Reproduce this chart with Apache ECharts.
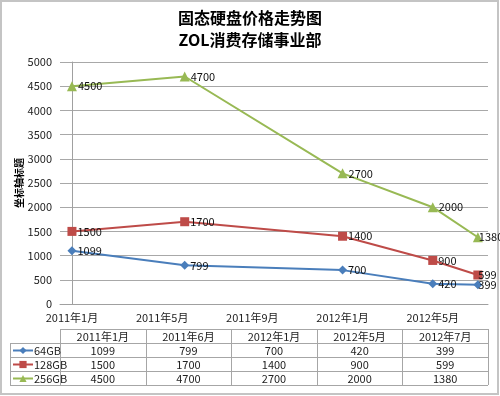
<!DOCTYPE html>
<html><head><meta charset="utf-8">
<script src="https://cdn.jsdelivr.net/npm/echarts@6/dist/echarts.min.js"></script>
<style>html,body{margin:0;padding:0;background:#fff}#c{width:500px;height:396px}</style>
</head><body><div id="c"></div>
<script>
const titleText = '固态硬盘价格走势图';
const subtitleText = 'ZOL消费存储事业部';
const yAxisTitle = '坐标轴标题';
const categories = ['2011年1月','2011年6月','2012年1月','2012年5月','2012年7月'];
const monthIndex = [0, 5, 12, 16, 18]; // months since 2011年1月
const tickMonths = [0, 4, 8, 12, 16];
const tickLabels = ['2011年1月','2011年5月','2011年9月','2012年1月','2012年5月'];
const seriesNames = ['64GB','128GB','256GB'];
const s64 = [1099, 799, 700, 420, 399];
const s128 = [1500, 1700, 1400, 900, 599];
const s256 = [4500, 4700, 2700, 2000, 1380];

const seriesValues = [s64, s128, s256];
const colors = ['#4a7ebb', '#be4b48', '#98b954'];
const symbols = ['diamond', 'rect', 'triangle'];
const symbolSizes = [9, 9, 10];
const FONT = "'Liberation Sans Narrow','Noto Sans CJK SC',sans-serif";
const GRID = {left: 60, right: 12, top: 62, bottom: 92};
const W = 500;

const chart = echarts.init(document.getElementById('c'), null, {renderer: 'canvas'});

// data table graphics
const tblLeft = GRID.left, tblRight = W - GRID.right, keyLeft = 10;
const hdrTop = 329, rowH = 14;
const colW = (tblRight - tblLeft) / categories.length;
const lineStyle = {stroke: '#a6a6a6', lineWidth: 1};
const g = [];
function hline(x1, x2, y) { g.push({type: 'line', shape: {x1, y1: y + 0.5, x2, y2: y + 0.5}, style: lineStyle, silent: true}); }
function vline(x, y1, y2) { g.push({type: 'line', shape: {x1: x + 0.5, y1, x2: x + 0.5, y2}, style: lineStyle, silent: true}); }
const nRows = seriesNames.length;
const tblBottom = hdrTop + rowH * (nRows + 1);
hline(tblLeft, tblRight, hdrTop);
for (let r = 0; r <= nRows; r++) hline(keyLeft, tblRight, hdrTop + rowH * (r + 1));
vline(keyLeft, hdrTop + rowH, tblBottom);
for (let c = 0; c <= categories.length; c++) vline(Math.round(tblLeft + c * colW), hdrTop, tblBottom);
categories.forEach((cat, c) => {
  g.push({type: 'text', x: tblLeft + (c + 0.5) * colW, y: hdrTop + rowH / 2 + 1,
    style: {text: cat, align: 'center', verticalAlign: 'middle', fontSize: 11, fontFamily: FONT, fill: '#222'}, silent: true});
});
seriesValues.forEach((vals, r) => {
  vals.forEach((v, c) => {
    g.push({type: 'text', x: tblLeft + (c + 0.5) * colW, y: hdrTop + rowH * (r + 1) + rowH / 2 + 1,
      style: {text: String(v), align: 'center', verticalAlign: 'middle', fontSize: 11, fontFamily: FONT, fill: '#222'}, silent: true});
  });
});
// outer border
g.push({type: 'rect', shape: {x: 1, y: 1, width: 497, height: 393}, style: {fill: 'none', stroke: '#c4c4c4', lineWidth: 2}, silent: true});

const option = {
  backgroundColor: '#fff',
  animation: false,
  title: [
    {text: titleText, left: 'center', top: 5, textStyle: {fontSize: 16, fontWeight: 'bold', color: '#000', fontFamily: "'Noto Sans CJK SC',sans-serif"}},
    {text: subtitleText, left: 'center', top: 27, textStyle: {fontSize: 16, fontWeight: 'bold', color: '#000', fontFamily: "'Noto Sans CJK SC',sans-serif"}}
  ],
  legend: seriesNames.map((n, i) => ({
    data: [n], left: 12, top: hdrTop + rowH * (i + 1) + 2, padding: 0,
    itemWidth: 20, itemHeight: 9, itemGap: 0,
    textStyle: {fontSize: 11, fontFamily: FONT, color: '#222', padding: [0, 0, 0, -4]}
  })),
  grid: GRID,
  xAxis: {
    type: 'value', min: -0.53, max: 18.45,
    axisLine: {show: true, lineStyle: {color: '#a0a0a0'}},
    axisTick: {show: false},
    splitLine: {show: false},
    axisLabel: {
      customValues: tickMonths, margin: 8, fontSize: 11, fontFamily: FONT, color: '#222',
      formatter: v => { const i = tickMonths.indexOf(v); return i >= 0 ? tickLabels[i] : ''; }
    }
  },
  yAxis: {
    type: 'value', min: 0, max: 5000, interval: 500,
    name: yAxisTitle, nameLocation: 'middle', nameGap: 36, nameMoveOverlap: false,
    nameTextStyle: {fontSize: 10, fontWeight: 'bold', color: '#000', fontFamily: "'Noto Sans CJK SC',sans-serif"},
    axisLine: {show: true, lineStyle: {color: '#a0a0a0'}},
    axisTick: {show: false},
    splitLine: {lineStyle: {color: '#a8a8a8'}},
    axisLabel: {margin: 8, fontSize: 11, fontFamily: FONT, color: '#222', formatter: v => String(v)}
  },
  series: seriesNames.map((n, i) => ({
    name: n, type: 'line',
    data: seriesValues[i].map((v, k) => k === monthIndex.length - 1
      ? {value: [monthIndex[k], v], label: {offset: [-5, 0]}}
      : [monthIndex[k], v]),
    symbol: symbols[i], symbolSize: symbolSizes[i],
    lineStyle: {width: 2, color: colors[i]},
    itemStyle: {color: colors[i]},
    label: {show: true, position: 'right', distance: 1, fontSize: 11, fontFamily: FONT, color: '#111',
      formatter: p => String(p.value[1])}
  })),
  graphic: g
};
chart.setOption(option);
</script></body></html>
